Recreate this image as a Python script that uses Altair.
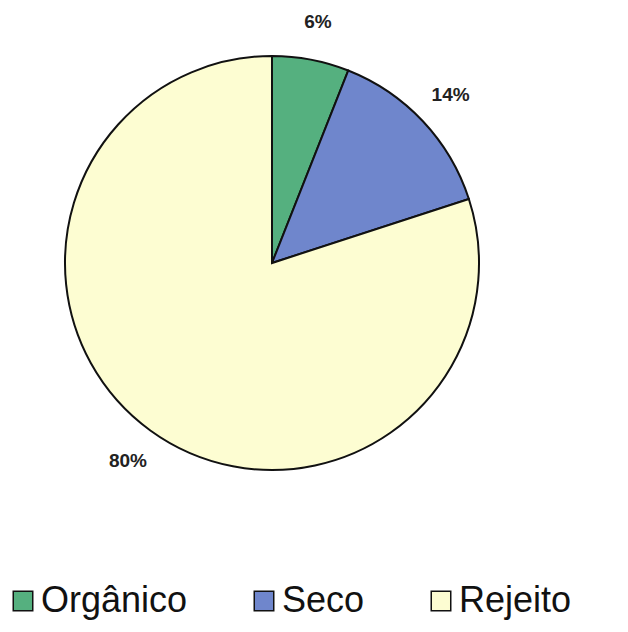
import altair as alt
import pandas as pd

categories = ["Orgânico", "Seco", "Rejeito"]
values = [6, 14, 80]
labels = ["6%", "14%", "80%"]
colors = ["#55b07f", "#6f86cc", "#fdfdd2"]

df = pd.DataFrame({"cat": categories, "val": values, "lab": labels, "ord": [0, 1, 2]})

base = alt.Chart(df).encode(
    theta=alt.Theta("val:Q", stack=True),
    order=alt.Order("ord:Q"),
    x=alt.value(259),
    y=alt.value(250),
)

pie = base.mark_arc(outerRadius=207, stroke="#111111", strokeWidth=2).encode(
    color=alt.Color(
        "cat:N",
        scale=alt.Scale(domain=categories, range=colors),
        sort=categories,
        legend=alt.Legend(
            title=None,
            orient="none",
            legendX=-8,
            legendY=570,
            direction="horizontal",
            symbolType="square",
            symbolSize=380,
            symbolStrokeColor="#111111",
            symbolStrokeWidth=1.5,
            labelFont="Liberation Sans",
            labelFontSize=36,
            labelColor="#111111",
            labelOffset=0,
            columnPadding=58,
            labelLimit=400,
        ),
    )
)

text = base.mark_text(
    radius=245, font="Liberation Sans", fontSize=19, fontWeight="bold", color="#222222"
).encode(text="lab:N")

chart = (
    (pie + text)
    .properties(width=600, height=605, autosize=alt.AutoSizeParams(type="none"), padding=5)
    .configure_view(stroke=None)
)

chart.save("out.html", embed_options={"renderer": "svg", "actions": False})
